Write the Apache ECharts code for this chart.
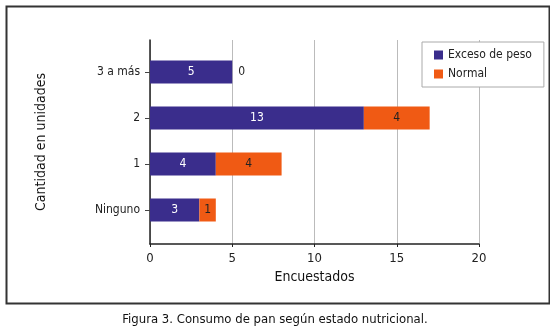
<!DOCTYPE html>
<html>
<head>
<meta charset="utf-8">
<script src="https://cdn.jsdelivr.net/npm/echarts@6/dist/echarts.min.js"></script>
<style>
  html, body { margin: 0; padding: 0; background: #fff; }
  #chart { width: 550px; height: 335px; }
</style>
</head>
<body>
<div id="chart"></div>
<script>
const categories = ["Ninguno", "1", "2", "3 a más"];
const excesoPeso = [3, 4, 13, 5];
const normal = [1, 4, 4, 0];
const xTicks = [0, 5, 10, 15, 20];

const font = "'Liberation Sans Narrow', 'DejaVu Sans Condensed', 'Liberation Sans', sans-serif";
const blue = "#3a2d8c";
const orange = "#f05a14";

const chart = echarts.init(document.getElementById("chart"));

const option = {
  animation: false,
  textStyle: { fontFamily: font },
  legend: {
    orient: "vertical",
    left: 422,
    top: 42,
    padding: [7, 12, 7, 12],
    itemWidth: 9,
    itemHeight: 9,
    itemGap: 7,
    backgroundColor: "#fff",
    borderColor: "#aaa",
    borderWidth: 1,
    icon: "rect",
    textStyle: { fontFamily: font, fontSize: 12, color: "#222" },
    data: ["Exceso de peso", "Normal"]
  },
  grid: [
    // outer frame: axis lines, grid lines, x labels
    { left: 150, right: 71, top: 40, bottom: 91 },
    // inner: bars and category labels
    { left: 150, right: 71, top: 49, bottom: 102 }
  ],
  xAxis: [
    {
      gridIndex: 0,
      type: "value",
      min: xTicks[0],
      max: xTicks[xTicks.length - 1],
      interval: 5,
      name: "Encuestados",
      nameLocation: "middle",
      nameGap: 24,
      nameTextStyle: { fontFamily: font, fontSize: 14, color: "#111" },
      axisLine: { show: true, lineStyle: { color: "#222", width: 1.5 } },
      axisTick: { show: true, length: 3, lineStyle: { color: "#222" } },
      axisLabel: { fontFamily: font, fontSize: 13, color: "#222", margin: 8 },
      splitLine: { show: true, lineStyle: { color: "#bbb", width: 1 } }
    },
    {
      gridIndex: 1,
      type: "value",
      min: 0,
      max: 20,
      show: false
    }
  ],
  yAxis: [
    {
      gridIndex: 0,
      type: "value",
      min: 0,
      max: 1,
      name: "Cantidad en unidades",
      nameLocation: "middle",
      nameGap: 102,
      nameRotate: 90,
      nameTextStyle: { fontFamily: font, fontSize: 14, color: "#111" },
      axisLine: { show: true, lineStyle: { color: "#222", width: 1.5 } },
      axisTick: { show: false },
      axisLabel: { show: false },
      splitLine: { show: false }
    },
    {
      gridIndex: 1,
      type: "category",
      data: categories,
      axisLine: { show: false },
      axisTick: { show: true, alignWithLabel: true, length: 5, lineStyle: { color: "#444" } },
      axisLabel: { fontFamily: font, fontSize: 12, color: "#222", margin: 10 },
      splitLine: { show: false }
    }
  ],
  series: [
    {
      name: "Exceso de peso",
      type: "bar",
      xAxisIndex: 1,
      yAxisIndex: 1,
      stack: "total",
      barWidth: 23,
      itemStyle: { color: blue },
      label: {
        show: true,
        position: "inside",
        color: "#fff",
        fontFamily: font,
        fontSize: 12
      },
      data: excesoPeso
    },
    {
      name: "Normal",
      type: "bar",
      xAxisIndex: 1,
      yAxisIndex: 1,
      stack: "total",
      barWidth: 23,
      itemStyle: { color: orange },
      label: {
        show: true,
        position: "inside",
        color: "#222",
        fontFamily: font,
        fontSize: 12
      },
      data: normal.map(v => v === 0
        ? { value: v, label: { position: "right", distance: 6 } }
        : v)
    }
  ],
  graphic: [
    {
      type: "rect",
      left: 4,
      top: 4,
      shape: { width: 543, height: 297 },
      style: { fill: "none", stroke: "#333", lineWidth: 2 },
      silent: true
    },
    {
      type: "text",
      left: "center",
      top: 313,
      style: {
        text: "Figura 3. Consumo de pan según estado nutricional.",
        fontFamily: font,
        fontSize: 13,
        fill: "#111"
      }
    }
  ]
};

chart.setOption(option);
</script>
</body>
</html>
